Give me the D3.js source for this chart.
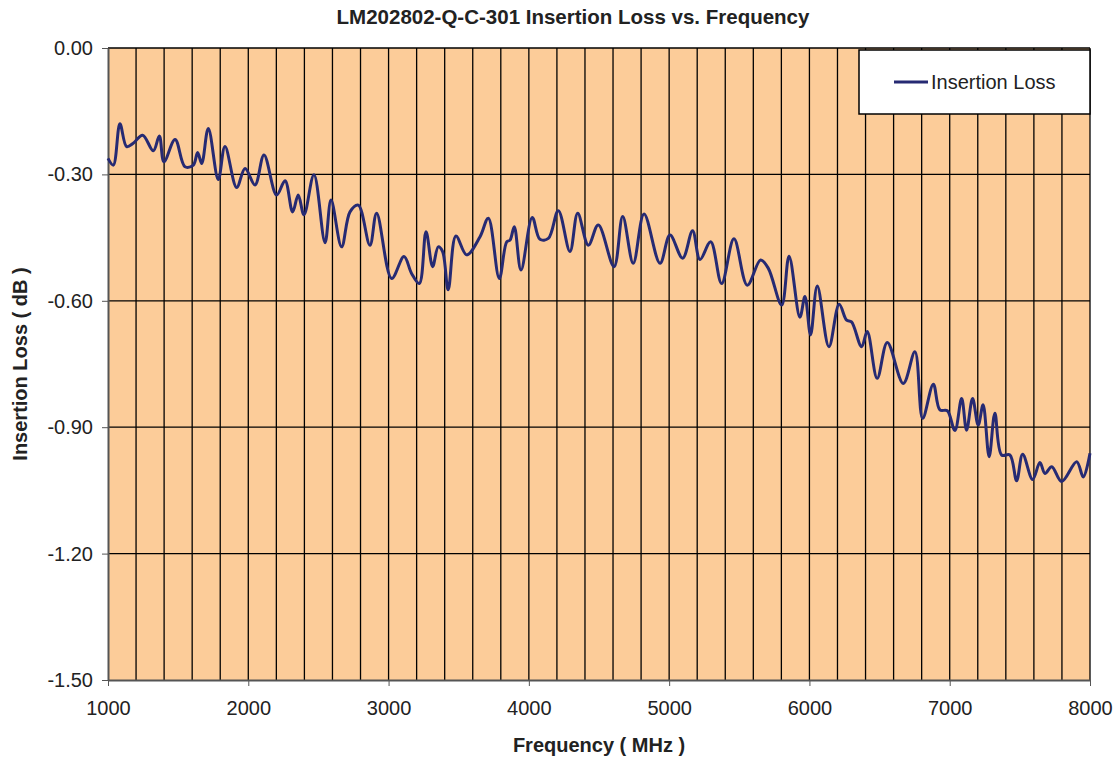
<!DOCTYPE html>
<html lang="en">
<head>
<meta charset="UTF-8">
<title>Insertion Loss vs. Frequency</title>
<style>
  body { margin: 0; background: #fff; }
  text { font-family: "Liberation Sans", Arial, sans-serif; }
</style>
</head>
<body>
<script src="https://cdn.jsdelivr.net/npm/d3@7"></script>
<script>
// frequency points (MHz)
var freq = [1000,1038,1085,1133,1180,1247,1323,1366,1399,1478,1549,1608,1639,1668,1715,1786,1834,1917,1977,2048,
  2112,2202,2262,2316,2356,2397,2468,2547,2590,2665,2725,2784,2867,2915,3022,3110,3164,3219,3267,3314,
  3354,3385,3425,3480,3557,3652,3711,3789,3842,3866,3896,3944,4024,4079,4139,4210,4293,4348,4424,4495,
  4607,4669,4744,4821,4935,5006,5096,5167,5220,5296,5374,5462,5557,5652,5707,5802,5855,5932,5968,6008,
  6056,6139,6212,6265,6300,6372,6412,6483,6555,6669,6752,6807,6883,6930,6983,7037,7085,7120,7163,7203,
  7238,7281,7322,7370,7429,7477,7520,7591,7643,7679,7727,7798,7905,7952,8000];
// insertion loss (dB)
var loss = [-0.262,-0.278,-0.180,-0.234,-0.226,-0.207,-0.244,-0.209,-0.270,-0.217,-0.282,-0.278,-0.248,-0.274,-0.191,-0.312,-0.234,-0.331,-0.286,-0.325,
  -0.254,-0.349,-0.315,-0.389,-0.349,-0.396,-0.301,-0.462,-0.361,-0.472,-0.389,-0.373,-0.468,-0.392,-0.547,-0.495,-0.535,-0.559,-0.436,-0.519,
  -0.472,-0.483,-0.574,-0.446,-0.491,-0.448,-0.404,-0.547,-0.460,-0.456,-0.424,-0.527,-0.402,-0.454,-0.452,-0.386,-0.483,-0.392,-0.468,-0.420,
  -0.519,-0.400,-0.511,-0.394,-0.511,-0.444,-0.499,-0.434,-0.502,-0.460,-0.559,-0.453,-0.563,-0.503,-0.523,-0.610,-0.494,-0.639,-0.590,-0.681,
  -0.565,-0.709,-0.608,-0.646,-0.650,-0.709,-0.673,-0.784,-0.699,-0.796,-0.721,-0.879,-0.798,-0.859,-0.861,-0.908,-0.832,-0.907,-0.832,-0.895,
  -0.847,-0.970,-0.867,-0.966,-0.966,-1.027,-0.964,-1.024,-0.984,-1.010,-0.994,-1.029,-0.982,-1.018,-0.962];

var xTicks = [1000,2000,3000,4000,5000,6000,7000,8000];
var yTicks = [0,-0.3,-0.6,-0.9,-1.2,-1.5];

var W = 1117, H = 759;
var margin = {top: 48, right: 27, bottom: 79, left: 108};
var w = W - margin.left - margin.right;
var h = H - margin.top - margin.bottom;

var svg = d3.select("body").append("svg")
  .attr("width", W)
  .attr("height", H);

var x = d3.scaleLinear().domain([1000, 8000]).range([0, w]);
var y = d3.scaleLinear().domain([-1.5, 0]).range([h, 0]);

var g = svg.append("g").attr("transform", "translate(" + margin.left + "," + margin.top + ")");

// plot background
g.append("rect")
  .attr("width", w).attr("height", h)
  .attr("fill", "#fccc99");

// vertical grid every 200 MHz
g.append("g").selectAll("line")
  .data(d3.range(1200, 8000, 200))
  .enter().append("line")
  .attr("x1", function(d) { return x(d); })
  .attr("x2", function(d) { return x(d); })
  .attr("y1", 0).attr("y2", h)
  .attr("stroke", "#000").attr("stroke-width", 1.3);

// horizontal grid
g.append("g").selectAll("line")
  .data(yTicks.slice(0, 5))
  .enter().append("line")
  .attr("x1", 0).attr("x2", w)
  .attr("y1", function(d) { return y(d); })
  .attr("y2", function(d) { return y(d); })
  .attr("stroke", "#000").attr("stroke-width", 1.3);

// right border
g.append("line")
  .attr("x1", w).attr("x2", w).attr("y1", 0).attr("y2", h)
  .attr("stroke", "#000").attr("stroke-width", 1.3);

// axes
var fmt2 = d3.format(".2f");
var xAxis = d3.axisBottom(x).tickValues(xTicks).tickSize(6).tickSizeOuter(0).tickFormat(d3.format("d"));
var yAxis = d3.axisLeft(y).tickValues(yTicks).tickSize(6).tickSizeOuter(0)
  .tickFormat(function(d) { return fmt2(d).replace("\u2212", "-"); });

var gx = g.append("g").attr("transform", "translate(0," + h + ")").call(xAxis);
gx.select(".domain").attr("stroke", "#555").attr("stroke-width", 2);
gx.selectAll(".tick line").attr("stroke", "#555");
gx.selectAll(".tick text").attr("font-size", 20).attr("fill", "#222").attr("dy", "1.31em");

var gy = g.append("g").call(yAxis);
gy.select(".domain").attr("stroke", "#555").attr("stroke-width", 2);
gy.selectAll(".tick line").attr("stroke", "#555");
gy.selectAll(".tick text").attr("font-size", 20).attr("fill", "#222").attr("dx", "-6");

// legend box
var leg = g.append("g").attr("transform", "translate(" + (w - 231) + ",2)");
leg.append("rect")
  .attr("width", 231).attr("height", 64)
  .attr("fill", "#fff").attr("stroke", "#000").attr("stroke-width", 1.5);
leg.append("line")
  .attr("x1", 35).attr("x2", 69).attr("y1", 32).attr("y2", 32)
  .attr("stroke", "#262a73").attr("stroke-width", 3);
leg.append("text")
  .attr("x", 72).attr("y", 32).attr("dy", "0.35em")
  .attr("font-size", 20).attr("fill", "#222")
  .text("Insertion Loss");

// data line
var line = d3.line()
  .x(function(d, i) { return x(freq[i]); })
  .y(function(d) { return y(d); })
  .curve(d3.curveCatmullRom.alpha(0.5));

g.append("path")
  .datum(loss)
  .attr("d", line)
  .attr("fill", "none")
  .attr("stroke", "#262a73")
  .attr("stroke-width", 3);

// titles
svg.append("text")
  .attr("x", 573).attr("y", 24)
  .attr("text-anchor", "middle")
  .attr("font-size", 20.5).attr("font-weight", "bold").attr("fill", "#222")
  .text("LM202802-Q-C-301 Insertion Loss vs. Frequency");

svg.append("text")
  .attr("x", 599).attr("y", 752)
  .attr("text-anchor", "middle")
  .attr("font-size", 20).attr("font-weight", "bold").attr("fill", "#222")
  .text("Frequency ( MHz )");

svg.append("text")
  .attr("transform", "translate(27," + (margin.top + h / 2) + ") rotate(-90)")
  .attr("text-anchor", "middle")
  .attr("font-size", 20).attr("font-weight", "bold").attr("fill", "#222")
  .text("Insertion Loss ( dB )");
</script>
</body>
</html>
